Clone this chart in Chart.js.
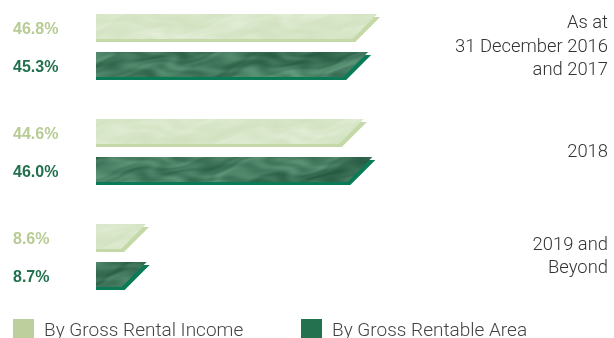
<!DOCTYPE html>
<html>
<head>
<meta charset="utf-8">
<style>
  html, body { margin: 0; padding: 0; background: #ffffff; }
  #wrap { width: 614px; height: 338px; }
</style>
<script src="https://cdn.jsdelivr.net/npm/chart.js@4/dist/chart.umd.min.js"></script>
</head>
<body>
<div id="wrap"><canvas id="chart" width="614" height="338"></canvas></div>
<script>
// Lease expiry profile: share of rental income and rentable area by period
const categories = [["As at", "31 December 2016", "and 2017"], "2018", ["2019 and", "Beyond"]];
const seriesNames = ["By Gross Rental Income", "By Gross Rentable Area"];
const rentalIncome = [46.8, 44.6, 8.6];
const rentableArea = [45.3, 46.0, 8.7];

const LIGHT = { swatch: "#bdcf9c", label: "#b7cc95", edge: "#c4d8a8", lo: [210, 226, 192], hi: [230, 239, 219], gamma: 1.6 };
const DARK  = { swatch: "#23714f", label: "#21704e", edge: "#0b7a56", lo: [36, 88, 64], hi: [102, 158, 128], gamma: 1.15 };

// Marbled fill built from warped sine streaks
function makeTexture(c) {
  const w = 614, h = 338;
  const cv = document.createElement("canvas");
  cv.width = w; cv.height = h;
  const g = cv.getContext("2d");
  const img = g.createImageData(w, h);
  for (let y = 0; y < h; y++) {
    for (let x = 0; x < w; x++) {
      const wx = x + 9 * Math.sin(y * 0.23 + x * 0.031) + 6 * Math.sin(x * 0.017 - y * 0.41);
      const wy = y + 5 * Math.sin(x * 0.053 + 0.7) + 3 * Math.sin(x * 0.129 + y * 0.2);
      const n = 0.32 * Math.sin(wx * 0.038 + wy * 0.21)
              + 0.24 * Math.sin(wx * 0.091 - wy * 0.37 + 1.3)
              + 0.18 * Math.sin(wx * 0.0157 + wy * 0.09 + 2.1)
              + 0.14 * Math.sin(wx * 0.173 + wy * 0.61 + 0.4)
              + 0.12 * Math.sin(wx * 0.0071 - wy * 0.05 + 4.0);
      let t = Math.min(1, Math.max(0, (n + 1) / 2));
      t = Math.pow(t, c.gamma);
      const i = (y * w + x) * 4;
      img.data[i]     = c.lo[0] + (c.hi[0] - c.lo[0]) * t;
      img.data[i + 1] = c.lo[1] + (c.hi[1] - c.lo[1]) * t;
      img.data[i + 2] = c.lo[2] + (c.hi[2] - c.lo[2]) * t;
      img.data[i + 3] = 255;
    }
  }
  g.putImageData(img, 0, 0);
  return cv;
}

const styles = [LIGHT, DARK];

// Bars with a slanted end and an offset lower edge
const slantedBars = {
  id: "slantedBars",
  beforeDatasetDraw() { return false; },
  afterDatasetsDraw(chart) {
    const ctx = chart.ctx;
    chart.data.datasets.forEach((ds, di) => {
      const st = styles[di];
      const pattern = ctx.createPattern(st.tex || (st.tex = makeTexture(st)), "no-repeat");
      const meta = chart.getDatasetMeta(di);
      meta.data.forEach((el, i) => {
        const p = el.getProps(["x", "y", "base", "height"], true);
        const top = p.y - p.height / 2, bottom = p.y + p.height / 2;
        const d = 3, s = 1.0;
        ctx.save();
        // lower edge / shadow
        ctx.beginPath();
        ctx.moveTo(p.base, top + d);
        ctx.lineTo(p.x + 1, top + d);
        ctx.lineTo(p.x + 1 - s * (p.height - d), bottom);
        ctx.lineTo(p.base, bottom);
        ctx.closePath();
        ctx.fillStyle = st.edge;
        ctx.fill();
        // face
        ctx.beginPath();
        ctx.moveTo(p.base, top);
        ctx.lineTo(p.x - 2, top);
        ctx.lineTo(p.x - 2 - s * (p.height - d), bottom - d);
        ctx.lineTo(p.base, bottom - d);
        ctx.closePath();
        ctx.fillStyle = pattern;
        ctx.fill();
        // value label on the left
        ctx.fillStyle = st.label;
        ctx.font = "bold 16px 'Liberation Sans'";
        ctx.textAlign = "left";
        ctx.textBaseline = "middle";
        ctx.fillText(ds.data[i].toFixed(1) + "%", 13, p.y + 1.5);
        ctx.restore();
      });
    });
  },
  afterDraw(chart) {
    const ctx = chart.ctx;
    const xs = [13, 301];
    ctx.save();
    chart.data.datasets.forEach((ds, di) => {
      ctx.fillStyle = styles[di].swatch;
      ctx.fillRect(xs[di], 319, 21, 20);
      ctx.fillStyle = "#444444";
      ctx.font = "300 19px Roboto";
      ctx.textAlign = "left";
      ctx.textBaseline = "alphabetic";
      ctx.fillText(ds.label, xs[di] + 31, 336);
    });
    ctx.restore();
  }
};

new Chart(document.getElementById("chart"), {
  type: "bar",
  data: {
    labels: categories,
    datasets: [
      { label: seriesNames[0], data: rentalIncome, backgroundColor: LIGHT.swatch, categoryPercentage: 0.724, barPercentage: 0.737 },
      { label: seriesNames[1], data: rentableArea, backgroundColor: DARK.swatch, categoryPercentage: 0.724, barPercentage: 0.737 }
    ]
  },
  options: {
    indexAxis: "y",
    responsive: false,
    animation: false,
    events: [],
    layout: { padding: { left: 96, right: 6, top: 47, bottom: 81 } },
    plugins: { legend: { display: false }, tooltip: { enabled: false } },
    scales: {
      x: { display: false, min: 0, max: 58.5 },
      y: {
        position: "right",
        offset: false,
        grid: { display: false, drawTicks: false },
        border: { display: false },
        ticks: {
          crossAlign: "far",
          padding: 0,
          color: "#333333",
          font: { family: "Roboto", size: 18.4, weight: "300", lineHeight: 1.26 }
        },
        afterFit(scale) { scale.width = 158; }
      }
    }
  },
  plugins: [slantedBars]
});
</script>
</body>
</html>
